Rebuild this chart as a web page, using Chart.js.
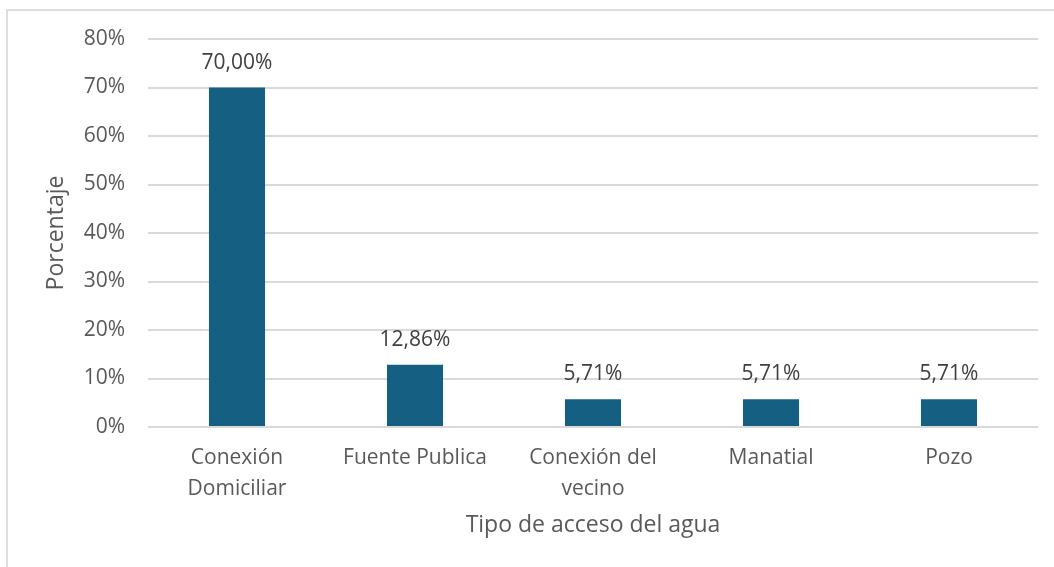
<!DOCTYPE html>
<html>
<head>
<meta charset="utf-8">
<script src="https://cdn.jsdelivr.net/npm/chart.js@4/dist/chart.umd.min.js"></script>
<style>
  html, body { margin: 0; padding: 0; background: #fff; }
  #wrap { position: relative; width: 1054px; height: 567px; }
  #frame { position: absolute; left: 6px; top: 9px; right: -4px; bottom: -4px; border: 2px solid #dedede; }
  canvas { position: absolute; left: 0; top: 0; }
</style>
</head>
<body>
<div id="wrap">
  <div id="frame"></div>
  <canvas id="chart" width="1054" height="567"></canvas>
</div>
<script>
// Chart Data
const categories = [['Conexión', 'Domiciliar'], 'Fuente Publica', ['Conexión del', 'vecino'], 'Manatial', 'Pozo'];
const percentages = [70.00, 12.86, 5.71, 5.71, 5.71];
const yTicks = [0, 10, 20, 30, 40, 50, 60, 70, 80];

const fontFamily = '"Open Sans", "Noto Sans", sans-serif';

// value labels above the bars
const barLabels = {
    id: 'barLabels',
    afterDatasetsDraw(chart) {
        const ctx = chart.ctx;
        const meta = chart.getDatasetMeta(0);
        ctx.save();
        ctx.font = '21px ' + fontFamily;
        ctx.fillStyle = '#404040';
        ctx.textAlign = 'center';
        ctx.textBaseline = 'alphabetic';
        meta.data.forEach((bar, i) => {
            const txt = percentages[i].toFixed(2).replace('.', ',') + '%';
            ctx.fillText(txt, bar.x, bar.y - 19);
        });
        ctx.restore();
    }
};

// Chart Configuration
const config = {
    type: 'bar',
    data: {
        labels: categories,
        datasets: [{
            label: 'Porcentaje',
            data: percentages,
            backgroundColor: '#156082',
            borderWidth: 0,
            barPercentage: 0.63,
            categoryPercentage: 0.5
        }]
    },
    options: {
        responsive: false,
        animation: false,
        layout: { padding: { left: 0, right: 16, top: 39, bottom: 0 } },
        plugins: {
            legend: { display: false },
            tooltip: { enabled: false }
        },
        scales: {
            y: {
                min: 0,
                max: 80,
                afterBuildTicks: (scale) => { scale.ticks = yTicks.map(v => ({ value: v })); },
                afterFit: (scale) => { scale.width = 148; },
                border: { display: false },
                grid: { color: '#d9d9d9', lineWidth: 2, drawTicks: false },
                ticks: {
                    padding: 23,
                    color: '#595959',
                    font: { family: fontFamily, size: 21 },
                    callback: (v) => v + '%'
                },
                title: {
                    display: true,
                    text: 'Porcentaje',
                    color: '#595959',
                    font: { family: fontFamily, size: 23 },
                    padding: { top: 43, bottom: 0 }
                }
            },
            x: {
                afterFit: (scale) => { scale.height = 567 - 427; },
                border: { display: false },
                grid: { display: false, drawTicks: false },
                ticks: {
                    padding: 15,
                    color: '#595959',
                    maxRotation: 0,
                    autoSkip: false,
                    font: { family: fontFamily, size: 21, lineHeight: 1.48 }
                },
                title: {
                    display: true,
                    text: 'Tipo de acceso del agua',
                    color: '#595959',
                    font: { family: fontFamily, size: 23 },
                    padding: { top: 0, bottom: 28 }
                }
            }
        }
    },
    plugins: [barLabels]
};

// Create Chart
const chart = new Chart(document.getElementById('chart'), config);
</script>
</body>
</html>
